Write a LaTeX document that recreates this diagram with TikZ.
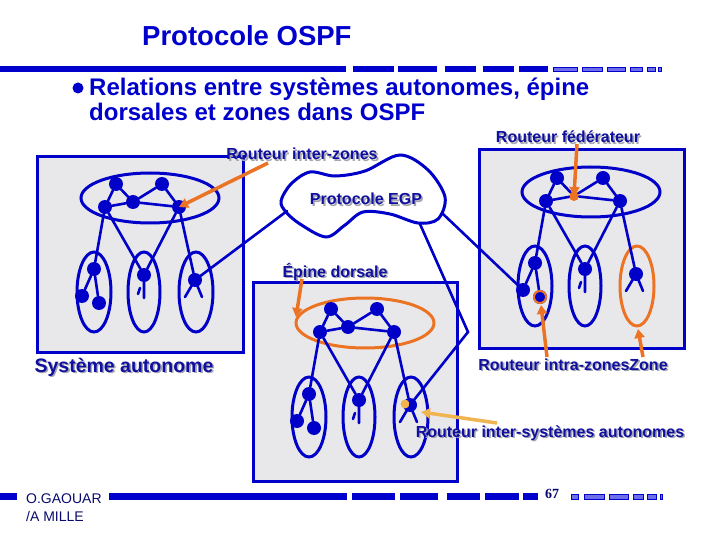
\documentclass[tikz,border=0pt]{standalone}
\usepackage{fontspec}
\setmainfont{Liberation Sans}
\newfontfamily\serifb{Liberation Serif}
\usetikzlibrary{arrows.meta}
\definecolor{ln}{RGB}{0,0,200}
\definecolor{ttl}{RGB}{0,0,204}
\definecolor{lbl}{RGB}{16,16,160}
\definecolor{shd}{RGB}{165,165,175}
\definecolor{boxf}{RGB}{232,232,235}
\definecolor{org}{RGB}{235,115,35}
\definecolor{yel}{RGB}{240,180,80}
\definecolor{lite}{RGB}{110,110,235}
\definecolor{navy}{RGB}{10,10,110}
\tikzset{
  asbox/.style={draw=ln,line width=3pt,fill=boxf},
  link/.style={draw=ln,line width=2.6pt,line cap=round},
  zone/.style={draw=ln,line width=3pt},
  rt/.style={circle,fill=ln,inner sep=0pt,minimum size=14pt},
  ort/.style={circle,fill=org,inner sep=0pt,minimum size=10pt},
  oarrow/.style={draw=org,line width=3.5pt,-{Triangle[length=9pt,width=10pt]}},
  yarrow/.style={draw=yel,line width=3.5pt,-{Triangle[length=9pt,width=10pt]}},
  lab/.style={text=lbl,inner sep=0pt,anchor=base},
  seg/.style={fill=ttl},
  lseg/.style={fill=lite,draw=ttl,line width=0.8pt}
}
% #1 prefix, #2 x, #3 y, #4 top ellipse colour, #5 right zone colour, #6 style of C
\newcommand\drawAS[6]{%
\begin{scope}[shift={(#2,#3)}]
 \draw[zone,draw=#4] (45,-9) ellipse [x radius=69pt, y radius=25pt];
 \draw[zone] (-11,85) ellipse [x radius=17pt, y radius=40pt];
 \draw[zone] (39,85) ellipse [x radius=16pt, y radius=40pt];
 \draw[zone,draw=#5] (91,85) ellipse [x radius=17pt, y radius=40pt];
 \node[rt] (#1B) at (0,0) {};
 \node[rt] (#1A) at (11,-23) {};
 \node[rt] (#1D) at (57,-23) {};
 \node[#6] (#1C) at (28,-5) {};
 \node[rt] (#1E) at (74,0) {};
 \node[rt] (#1n1) at (-11,62) {};
 \node[rt] (#1n2) at (-23,89) {};
 \node[rt] (#1n3) at (-6,96) {};
 \node[rt] (#1m) at (39,68) {};
 \node[rt] (#1r) at (90,73) {};
 \coordinate (#1mh) at (39,91);
 \coordinate (#1t1) at (35,81);
 \coordinate (#1t2) at (33,87);
 \coordinate (#1ra) at (97,90);
 \coordinate (#1rb) at (80,90);
 \draw[link] (#1A) -- (#1B) (#1A) -- (#1C) (#1C) -- (#1D) (#1D) -- (#1E)
   (#1B) -- (#1C) (#1C) -- (#1E)
   (#1B) -- (#1n1) (#1n1) -- (#1n2) (#1n1) -- (#1n3)
   (#1B) -- (#1m) (#1E) -- (#1m) (#1E) -- (#1r)
   (#1m.center) -- (#1mh) (#1t1) -- (#1t2)
   (#1r.center) -- (#1ra) (#1r.center) -- (#1rb);
\end{scope}}
% label with drop shadow, in one node
\newcommand\slabel[5][16]{%
 \node[lab,font=\fontsize{#1}{#1}\selectfont\bfseries] (#2) at (#3,#4)
   {\makebox[0pt][l]{\hspace{1.6pt}\raisebox{-1.6pt}{\textcolor{shd}{#5}}}#5};}
\begin{document}
\begin{tikzpicture}[x=1pt,y=-1pt]
\useasboundingbox (0,0) rectangle (720,540);
\fill[white] (0,0) rectangle (720,540);
% title
\node[anchor=base west,inner sep=0pt,text=ttl,font=\fontsize{27.5}{30}\selectfont\bfseries] (title) at (142,46) {Protocole OSPF};
% header bar
\fill[seg] (0,66) rectangle (346,72);
\fill[seg] (353,66) rectangle (394,72);
\fill[seg] (398,66) rectangle (437,72);
\fill[seg] (445,66) rectangle (476,72);
\fill[seg] (483,66) rectangle (514,72);
\fill[seg] (519,66) rectangle (548,72);
\draw[lseg] (553,67) rectangle (577,71.5);
\draw[lseg] (582,67) rectangle (602,71.5);
\draw[lseg] (607,67) rectangle (625,71.5);
\draw[lseg] (630,67) rectangle (642,71.5);
\draw[lseg] (647,67) rectangle (655,71.5);
\draw[lseg] (658.5,67) rectangle (661,71.5);
% bullet text
\fill[ttl] (78,88) circle[radius=5.5pt];
\node[anchor=base west,inner sep=0pt,text=ttl,font=\fontsize{24}{26}\selectfont\bfseries] (b1) at (89,96) {Relations entre systèmes autonomes, épine};
\node[anchor=base west,inner sep=0pt,text=ttl,font=\fontsize{24}{26}\selectfont\bfseries] (b2) at (89,121) {dorsales et zones dans OSPF};
% boxes
\draw[asbox] (37,157) rectangle (243,352);
\draw[asbox] (479,150) rectangle (684,348);
\draw[asbox] (253,282) rectangle (457,481);
% autonomous systems
\drawAS{L}{105}{207}{ln}{ln}{rt}
\drawAS{M}{320}{332}{org}{ln}{rt}
\drawAS{R}{546}{201}{ln}{org}{ort}
\draw[org,line width=2pt,fill=ln] (Rn3.center) circle[radius=6pt];
\fill[yel] (405,404) circle[radius=4.5pt];
% cloud
\draw[ln,line width=3pt] plot[smooth cycle,tension=0.55] coordinates {
 (281,201) (291,184) (310,172) (335,176) (365,171) (400,155) (428,170)
 (445,197) (438,219) (418,223) (390,214) (363,212) (345,225) (326,237)
 (300,224) (286,212)};
\coordinate (cl) at (287,211);
\coordinate (cb) at (420,224);
\coordinate (cr) at (443,214);
\coordinate (kink) at (468,332);
\draw[link] (cl) -- (Lr.center);
\draw[link] (cb) -- (kink) -- (Mr.center);
\draw[link] (cr) -- (Rn2);
% labels
\slabel{lInter}{302}{160}{Routeur inter-zones}
\slabel{lEGP}{366}{205}{Protocole EGP}
\slabel{lFed}{568}{143}{Routeur fédérateur}
\slabel{lEpine}{335}{277}{Épine dorsale}
\slabel[19.5]{lSA}{124}{372}{Système autonome}
\slabel{lIntra}{573}{370}{Routeur intra-zonesZone}
\slabel{lInterAS}{550}{437}{Routeur inter-systèmes autonomes}
% arrows
\coordinate (a1s) at (268,163);
\coordinate (a2s) at (577,144);
\coordinate (a3s) at (547,357);
\coordinate (a4s) at (643,357);
\coordinate (a5s) at (302,279);
\coordinate (a6s) at (497,423);
\coordinate (a3e) at (541,305);
\coordinate (a4e) at (638,329);
\coordinate (a5e) at (296,317);
\coordinate (a6e) at (421,412);
\draw[oarrow] (a1s) -- (LE.center);
\draw[oarrow] (a2s) -- (RC.center);
\draw[oarrow] (a3s) -- (a3e);
\draw[oarrow] (a4s) -- (a4e);
\draw[oarrow] (a5s) -- (a5e);
\draw[yarrow] (a6s) -- (a6e);
% footer
\fill[seg] (0,493) rectangle (17,500);
\fill[seg] (109,493) rectangle (347,500);
\fill[seg] (352,493) rectangle (395,500);
\fill[seg] (400,493) rectangle (438,500);
\fill[seg] (447,493) rectangle (480,500);
\fill[seg] (485,493) rectangle (519,500);
\fill[seg] (523,493) rectangle (538,500);
\draw[lseg] (571,494) rectangle (578,499.5);
\draw[lseg] (584,494) rectangle (604,499.5);
\draw[lseg] (609,494) rectangle (628,499.5);
\draw[lseg] (633,494) rectangle (643,499.5);
\draw[lseg] (647,494) rectangle (656,499.5);
\draw[lseg] (660,494) rectangle (662,499.5);
\node[anchor=base,inner sep=0pt,text=navy,font=\serifb\fontsize{14}{15}\selectfont\bfseries] (pg) at (552,498) {67};
\node[anchor=base west,inner sep=0pt,text=navy,font=\fontsize{14}{16}\selectfont] (au1) at (26,503) {O.GAOUAR};
\node[anchor=base west,inner sep=0pt,text=navy,font=\fontsize{14}{16}\selectfont] (au2) at (26,521) {/A MILLE};
\end{tikzpicture}
\end{document}
